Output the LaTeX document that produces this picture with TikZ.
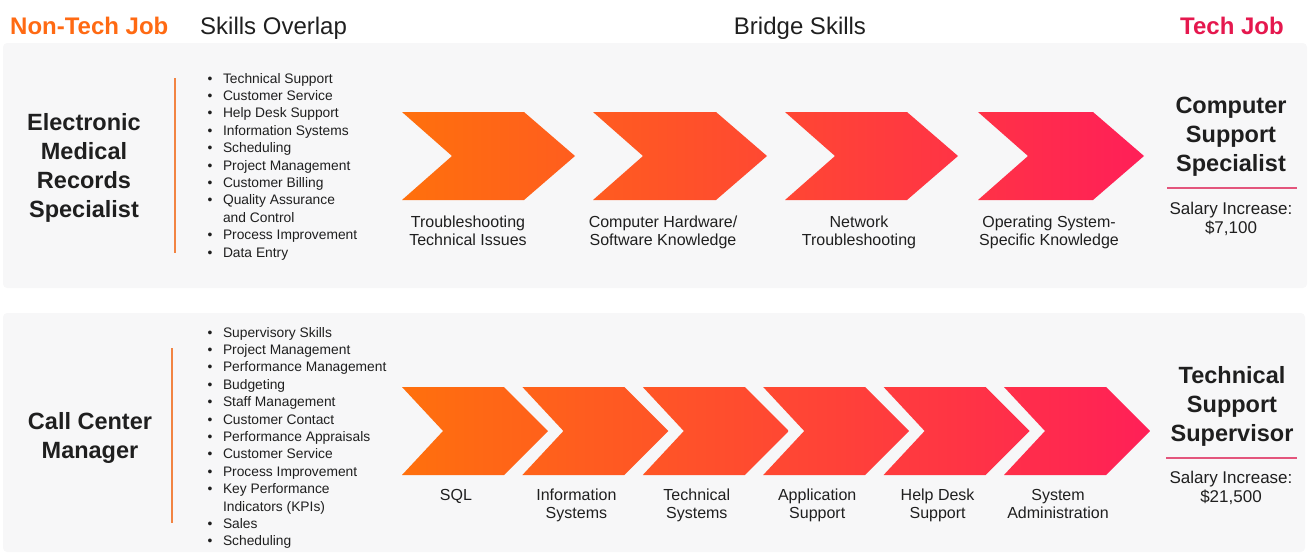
\documentclass[tikz,border=0pt]{standalone}
\usepackage{fontspec}
\setmainfont{Liberation Sans}
\definecolor{ntorange}{HTML}{FF6A13}
\definecolor{techpink}{HTML}{E5184E}
\definecolor{chevA}{HTML}{FF700D}
\definecolor{chevB}{HTML}{FF1F58}
\definecolor{panelgrey}{HTML}{F7F7F8}
\definecolor{inkdark}{HTML}{1F1F1F}
\definecolor{rulepink}{HTML}{E3557C}
\definecolor{ruleorange}{HTML}{F28443}
\newcommand{\rows}[2]{\begin{tabular}[t]{@{}#1@{}}#2\end{tabular}}

\begin{document}
\begin{tikzpicture} [x=1pt, y=-1pt, every node/.style={inner sep=0pt, text=inkdark},
	header/.style ={font=\fontsize{24}{28}\selectfont, anchor=base},
	jobtitle/.style ={font=\fontsize{23.5}{29}\selectfont\bfseries, anchor=base},
	skilllist/.style ={font=\fontsize{13.8}{17.4}\selectfont, anchor=base west},
	bridgelabel/.style ={font=\fontsize{16}{18.5}\selectfont, anchor=base},
	salary/.style ={font=\fontsize{17}{19.5}\selectfont, anchor=base},
	panel/.style ={fill=panelgrey, rounded corners=4pt}]
	\useasboundingbox (0,0) rectangle (1314,552);
	% background panels
	\fill[panel] (3,43) rectangle (1307,288);
	\fill[panel] (3,313) rectangle (1305,552);
	% column headers
	\node[header, anchor=base west, text=ntorange, font=\fontsize{24}{28}\selectfont\bfseries] (nontech) at (10,34.5) {Non-Tech Job};
	\node[header, anchor=base west] (overlap) at (200,34.5) {Skills Overlap};
	\node[header] (bridge) at (800,34.5) {Bridge Skills};
	\node[header, text=techpink, font=\fontsize{24}{28}\selectfont\bfseries] (techjob) at (1232,34.5) {Tech Job};

	% first row
	\node[jobtitle] (emrs) at (84,130) {\rows{c}{Electronic\\Medical\\Records\\Specialist}};
	\draw[ruleorange, line width=1.5pt] (175,78) -- (175,253);
	\node[skilllist] (emrsskills) at (207.5,83) {\rows{l@{\hspace{10.5pt}}l}{
		\textbullet & Technical Support\\ \textbullet & Customer Service\\ \textbullet & Help Desk Support\\
		\textbullet & Information Systems\\ \textbullet & Scheduling\\ \textbullet & Project Management\\
		\textbullet & Customer Billing\\ \textbullet & Quality Assurance\\ & and Control\\
		\textbullet & Process Improvement\\ \textbullet & Data Entry}};
	\foreach \lab/\L/\w/\cx [count=\k from 0] in {{Troubleshooting\\Technical Issues}/402/173/468,
		{Computer Hardware/\\Software Knowledge}/593/174/663,
		{Network\\Troubleshooting}/785/173/859, {Operating System-\\Specific Knowledge}/978/166/1049} {
		\pgfmathtruncatemacro\pa{(\L-402)/741*100}
		\pgfmathtruncatemacro\pb{(\L+\w-402)/741*100}
		\shade[left color=chevB!\pa!chevA, right color=chevB!\pb!chevA]
			(\L,112) -- ++(\w-51,0) -- ++(51,44) -- ++(-51,44) -- ++(51-\w,0) -- ++(50,-44) -- cycle;
		\node[bridgelabel] (emrsbridge\k) at (\cx,227) {\rows{c}{\lab}};
	}
	\node[jobtitle] (css) at (1231,113) {\rows{c}{Computer\\Support\\Specialist}};
	\draw[rulepink, line width=1.5pt] (1167,188) -- (1297,188);
	\node[salary] (csspay) at (1231,214) {\rows{c}{Salary Increase:\\\$7,100}};

	% second row
	\node[jobtitle] (ccm) at (90,429) {\rows{c}{Call Center\\Manager}};
	\draw[ruleorange, line width=1.5pt] (172,348) -- (172,523);
	\node[skilllist] (ccmskills) at (207.5,337) {\rows{l@{\hspace{10.5pt}}l}{
		\textbullet & Supervisory Skills\\ \textbullet & Project Management\\ \textbullet & Performance Management\\
		\textbullet & Budgeting\\ \textbullet & Staff Management\\ \textbullet & Customer Contact\\
		\textbullet & Performance Appraisals\\ \textbullet & Customer Service\\ \textbullet & Process Improvement\\
		\textbullet & Key Performance\\ & Indicators (KPIs)\\ \textbullet & Sales\\ \textbullet & Scheduling}};
	\foreach \lab [count=\k from 0] in {{SQL}, {Information\\Systems}, {Technical\\Systems},
		{Application\\Support}, {Help Desk\\Support}, {System\\Administration}} {
		\pgfmathsetmacro\L{402+120.4*\k}
		\pgfmathtruncatemacro\pa{(\L-402)/748*100}
		\pgfmathtruncatemacro\pb{(\L+146-402)/748*100}
		\shade[left color=chevB!\pa!chevA, right color=chevB!\pb!chevA]
			(\L,387) -- ++(102,0) -- ++(44,44) -- ++(-44,44) -- ++(-102,0) -- ++(41,-44) -- cycle;
		\node[bridgelabel] (ccmbridge\k) at (\L+54,500) {\rows{c}{\lab}};
	}
	\node[jobtitle] (tss) at (1232,383) {\rows{c}{Technical\\Support\\Supervisor}};
	\draw[rulepink, line width=1.5pt] (1166,458) -- (1297,458);
	\node[salary] (tsspay) at (1231,483) {\rows{c}{Salary Increase:\\\$21,500}};
\end{tikzpicture}
\end{document}
